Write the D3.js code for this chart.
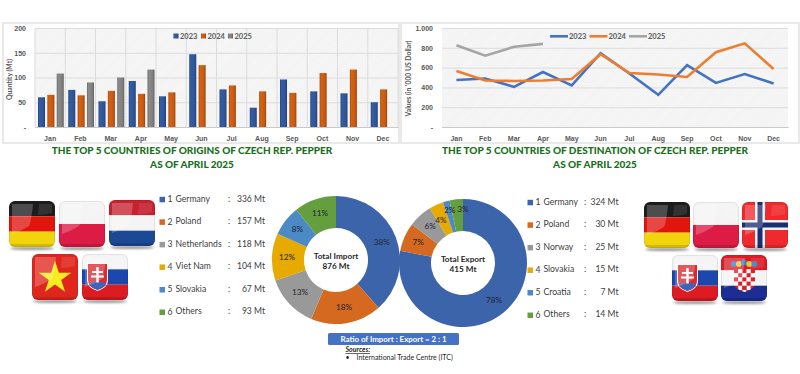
<!DOCTYPE html>
<html lang="en">
<head>
<meta charset="UTF-8">
<title>Czech Rep. Pepper Trade</title>
<script src="https://d3js.org/d3.v7.min.js"></script>
<style>
    html, body { margin: 0; padding: 0; background: #fff; overflow: hidden; }
    svg { display: block; font-family: Lato, "Open Sans", sans-serif; }
    .tick text, .month { font-size: 7px; font-weight: 700; fill: #595959; }
    .axis-title { font-size: 6.8px; font-weight: 700; fill: #595959; text-anchor: middle; }
    .legend-year { font-size: 7.5px; font-weight: 700; fill: #595959; }
    .title { font-size: 10px; font-weight: 900; fill: #17701a; text-anchor: middle; }
    .list { font-size: 8.6px; fill: #404040; dominant-baseline: middle; }
    .pct { font-size: 8.2px; fill: #1f2430; text-anchor: middle; dominant-baseline: middle; }
    .total { font-size: 8.2px; font-weight: 700; fill: #262626; text-anchor: middle; }
</style>
</head>
<body>
<div id="chart"></div>
<script>
const months = ["Jan", "Feb", "Mar", "Apr", "May", "Jun", "Jul", "Aug", "Sep", "Oct", "Nov", "Dec"];
const years = ["2023", "2024", "2025"];

// import quantity per month (Mt)
const import2023 = [60, 75, 52, 93, 62, 147, 76, 39, 96, 72, 68, 50];
const import2024 = [65, 64, 73, 67, 70, 125, 84, 72, 69, 109, 116, 76];
const import2025 = [108, 90, 100, 116];

// export value per month ('000 US Dollar)
const export2023 = [475, 490, 405, 555, 420, 745, 540, 325, 625, 445, 535, 440];
const export2024 = [565, 470, 465, 470, 485, 735, 545, 530, 505, 755, 845, 585];
const export2025 = [825, 720, 810, 840];

const importNames = ["Germany", "Poland", "Netherlands", "Viet Nam", "Slovakia", "Others"];
const importValues = [336, 157, 118, 104, 67, 93];
const importPct = [38, 18, 13, 12, 8, 11];

const exportNames = ["Germany", "Poland", "Norway", "Slovakia", "Croatia", "Others"];
const exportValues = [324, 30, 25, 15, 7, 14];
const exportPct = [78, 7, 6, 4, 2, 3];

const barColors = ["#2f5597", "#c55a11", "#7f7f7f"];
const lineColors = ["#4472c4", "#ed7d31", "#a5a5a5"];
const sliceColors = ["#3c64ab", "#d4691f", "#999999", "#e6aa00", "#4c8ac6", "#659e3e"];

const svg = d3.select("#chart").append("svg").attr("width", 800).attr("height", 374);
const defs = svg.append("defs");

const hatch = defs.append("pattern").attr("id", "hatch")
    .attr("width", 2).attr("height", 2)
    .attr("patternUnits", "userSpaceOnUse")
    .attr("patternTransform", "rotate(45)");
hatch.append("rect").attr("width", 2).attr("height", 2).attr("fill", "#fafafa");
hatch.append("rect").attr("width", 1).attr("height", 2).attr("fill", "#efefef");

barColors.forEach((c, i) => {
    const g = defs.append("linearGradient").attr("id", "bar" + i);
    g.append("stop").attr("offset", 0).attr("stop-color", d3.color(c).darker(0.5));
    g.append("stop").attr("offset", 0.22).attr("stop-color", d3.color(c).brighter(0.25));
    g.append("stop").attr("offset", 0.75).attr("stop-color", c);
    g.append("stop").attr("offset", 1).attr("stop-color", d3.color(c).darker(0.8));
});

defs.append("filter").attr("id", "soft").attr("x", "-20%").attr("y", "-200%").attr("width", "140%").attr("height", "500%")
    .append("feGaussianBlur").attr("stdDeviation", 1.2);
defs.append("filter").attr("id", "flagSoft")
    .append("feGaussianBlur").attr("stdDeviation", 0.4);

function frame(x, y, w, h) {
    svg.append("rect").attr("x", x).attr("y", y).attr("width", w).attr("height", h)
        .attr("fill", "#fff").attr("stroke", "#e2e2e2").attr("stroke-width", 1.5);
}

function twoLineTitle(cx, first) {
    svg.append("text").attr("class", "title").attr("x", cx).attr("y", 153.5).text(first);
    svg.append("text").attr("class", "title").attr("x", cx).attr("y", 167.5).text("AS OF APRIL 2025");
}

function styleAxis(g) {
    g.select(".domain").remove();
    g.selectAll(".tick line").attr("stroke", "#dcdcdc").attr("stroke-width", 1);
}

// ---- bar chart, import quantity
frame(3, 23, 396, 120);
const barBox = { left: 35, right: 398, top: 28, bottom: 127 };

svg.append("rect").attr("x", barBox.left).attr("y", barBox.top)
    .attr("width", barBox.right - barBox.left).attr("height", barBox.bottom - barBox.top)
    .attr("fill", "url(#hatch)");

const xBar = d3.scaleBand().domain(months).range([barBox.left, barBox.right]);
const xYear = d3.scaleBand().domain(years).range([3, xBar.bandwidth() - 1.5]).paddingInner(0.25);
const yBar = d3.scaleLinear().domain([0, 200]).range([barBox.bottom, barBox.top]);

svg.append("g").attr("transform", `translate(${barBox.left},0)`)
    .call(d3.axisLeft(yBar).tickValues([0, 50, 100, 150, 200])
        .tickSize(-(barBox.right - barBox.left)).tickPadding(9)
        .tickFormat(d => d === 0 ? "-" : d))
    .call(styleAxis);

svg.append("g").selectAll("line").data(months).join("line")
    .attr("x1", d => xBar(d) + xBar.bandwidth()).attr("x2", d => xBar(d) + xBar.bandwidth())
    .attr("y1", barBox.top).attr("y2", barBox.bottom)
    .attr("stroke", "#dcdcdc");
svg.append("line").attr("x1", barBox.left).attr("x2", barBox.left)
    .attr("y1", barBox.top).attr("y2", barBox.bottom).attr("stroke", "#dcdcdc");

[import2023, import2024, import2025].forEach((series, s) => {
    svg.append("g").selectAll("rect").data(series).join("rect")
        .attr("x", (d, i) => xBar(months[i]) + xYear(years[s]))
        .attr("y", d => yBar(d))
        .attr("width", xYear.bandwidth())
        .attr("height", d => yBar(0) - yBar(d))
        .attr("fill", `url(#bar${s})`);
});

svg.append("g").attr("transform", `translate(0,${barBox.bottom})`)
    .call(d3.axisBottom(xBar).tickSize(0).tickPadding(9))
    .call(g => g.select(".domain").attr("stroke", "#c9c9c9"));

svg.append("text").attr("class", "axis-title")
    .attr("transform", `translate(11.5,${(barBox.top + barBox.bottom) / 2 + 2}) rotate(-90)`)
    .text("Quantity (Mt)");

const barLegendX = d3.scaleOrdinal().domain(years).range([173.5, 201, 228]);
years.forEach((yr, i) => {
    svg.append("rect").attr("x", barLegendX(yr)).attr("y", 33.5).attr("width", 5).attr("height", 5)
        .attr("fill", `url(#bar${i})`);
    svg.append("text").attr("class", "legend-year").attr("x", barLegendX(yr) + 6.5).attr("y", 38.5).text(yr);
});

twoLineTitle(192, "THE TOP 5 COUNTRIES OF ORIGINS OF CZECH REP. PEPPER");

// ---- line chart, export value
frame(401, 23, 398, 120);
const lineBox = { left: 442, right: 788, top: 28, bottom: 127 };

svg.append("rect").attr("x", lineBox.left).attr("y", lineBox.top)
    .attr("width", lineBox.right - lineBox.left).attr("height", lineBox.bottom - lineBox.top)
    .attr("fill", "url(#hatch)");

const xLine = d3.scaleBand().domain(months).range([lineBox.left, lineBox.right]);
const yLine = d3.scaleLinear().domain([0, 1000]).range([lineBox.bottom, lineBox.top]);

svg.append("g").attr("transform", `translate(${lineBox.left},0)`)
    .call(d3.axisLeft(yLine).tickValues([0, 200, 400, 600, 800, 1000])
        .tickSize(-(lineBox.right - lineBox.left)).tickPadding(9)
        .tickFormat(d => d === 0 ? "-" : d === 1000 ? "1.000" : d))
    .call(styleAxis);

svg.append("g").attr("transform", `translate(0,${lineBox.bottom})`)
    .call(d3.axisBottom(xLine).tickSize(0).tickPadding(9))
    .call(g => g.select(".domain").attr("stroke", "#c9c9c9"));

const line = d3.line()
    .x((d, i) => xLine(months[i]) + xLine.bandwidth() / 2)
    .y(d => yLine(d));

[export2023, export2024, export2025].forEach((series, s) => {
    svg.append("path").datum(series).attr("d", line)
        .attr("fill", "none").attr("stroke", lineColors[s]).attr("stroke-width", 2.6);
});

svg.append("text").attr("class", "axis-title")
    .attr("transform", `translate(411,${(lineBox.top + lineBox.bottom) / 2 + 1}) rotate(-90)`)
    .text("Values (in '000 US Dollar)");

const lineLegendX = d3.scaleOrdinal().domain(years).range([550, 589.5, 629]);
years.forEach((yr, i) => {
    svg.append("line").attr("x1", lineLegendX(yr)).attr("x2", lineLegendX(yr) + 18)
        .attr("y1", 36.3).attr("y2", 36.3).attr("stroke", lineColors[i]).attr("stroke-width", 2.6);
    svg.append("text").attr("class", "legend-year").attr("x", lineLegendX(yr) + 19).attr("y", 39).text(yr);
});

twoLineTitle(595, "THE TOP 5 COUNTRIES OF DESTINATION OF CZECH REP. PEPPER");

// ---- donuts
const pie = d3.pie().sort(null);
const arc = d3.arc().innerRadius(32).outerRadius(64);
const labelArc = d3.arc().innerRadius(49).outerRadius(49);

function donut(cx, cy, values, pct, top, bottom, nudge) {
    const g = svg.append("g").attr("transform", `translate(${cx},${cy})`);
    const arcs = pie(values);
    g.selectAll("path").data(arcs).join("path")
        .attr("d", arc)
        .attr("fill", (d, i) => sliceColors[i]);
    g.selectAll(".pct").data(arcs).join("text")
        .attr("class", "pct")
        .attr("transform", (d, i) => {
            const [cxx, cyy] = labelArc.centroid(d);
            const n = nudge[i] || [0, 0];
            return `translate(${cxx + n[0]},${cyy + n[1]})`;
        })
        .text((d, i) => pct[i] + "%");
    g.append("text").attr("class", "total").attr("y", -1).text(top);
    g.append("text").attr("class", "total").attr("y", 9).text(bottom);
}

donut(336, 260, importValues, importPct, "Total Import", "876 Mt", {});
// the two thin slices carry labels pushed outward so they sit side by side
donut(463, 263, exportValues, exportPct, "Total Export", "415 Mt", { 3: [-1.5, 2.5], 4: [-0.5, -4.5], 5: [5, -4.5] });

// ---- country lists
function countryList(names, values, o) {
    const y = d3.scalePoint().domain(d3.range(6)).range([o.top, o.top + 5 * 22.55]);
    const g = svg.append("g");
    names.forEach((name, i) => {
        g.append("rect").attr("x", o.swatch).attr("y", y(i) - 2.7).attr("width", 5.5).attr("height", 5.5)
            .attr("fill", sliceColors[i]);
        g.append("text").attr("class", "list").attr("x", o.num).attr("y", y(i) + 0.5).text(i + 1);
        g.append("text").attr("class", "list").attr("x", o.name).attr("y", y(i)).text(name);
        g.append("text").attr("class", "list").attr("x", o.colon).attr("y", y(i)).text(":");
        g.append("text").attr("class", "list").attr("x", o.value).attr("y", y(i))
            .attr("text-anchor", "end").text(values[i] + " Mt");
    });
}

countryList(importNames, importValues, { top: 199.5, swatch: 159.5, num: 167.5, name: 175.5, colon: 228, value: 265 });
countryList(exportNames, exportValues, { top: 202.5, swatch: 527.5, num: 535.5, name: 543.5, colon: 584, value: 618.5 });

// ---- ratio box and sources
svg.append("rect").attr("x", 328).attr("y", 333).attr("width", 131).attr("height", 12).attr("rx", 1.5)
    .attr("fill", "#4472c4");
svg.append("text").attr("x", 393.5).attr("y", 342).attr("text-anchor", "middle")
    .attr("font-size", 7.9).attr("font-weight", 700).attr("fill", "#fff")
    .text("Ratio of Import : Export = 2 : 1");
svg.append("text").attr("x", 345.5).attr("y", 352)
    .attr("font-size", 7).attr("font-style", "italic").attr("font-weight", 700)
    .attr("text-decoration", "underline").attr("fill", "#262626").text("Sources:");
svg.append("text").attr("x", 345.5).attr("y", 360).attr("font-size", 7).attr("fill", "#262626").text("•");
svg.append("text").attr("x", 356.5).attr("y", 360).attr("font-size", 7).attr("fill", "#262626")
    .text("International Trade Centre (ITC)");

// ---- glossy flag icons
const flagSize = 46;
let flagCount = 0;

function stripes(g, colors) {
    const y = d3.scaleBand().domain(d3.range(colors.length)).range([0, flagSize]);
    g.selectAll(".stripe").data(colors).join("rect").attr("class", "stripe")
        .attr("y", (d, i) => y(i)).attr("width", flagSize).attr("height", y.bandwidth())
        .attr("fill", d => d);
}

function shield(g, x, y, w, h, fill) {
    return g.append("path")
        .attr("d", `M${x},${y}H${x + w}V${y + h * 0.62}Q${x + w},${y + h * 0.88} ${x + w / 2},${y + h}Q${x},${y + h * 0.88} ${x},${y + h * 0.62}Z`)
        .attr("fill", fill);
}

function drawGermany(g) { stripes(g, ["#1c1c1c", "#e0140f", "#f2d40c"]); }
function drawPoland(g) { stripes(g, ["#f4f4f4", "#dd1a45"]); }
function drawNetherlands(g) { stripes(g, ["#c5202f", "#f4f4f4", "#1c4a96"]); }

function drawVietnam(g) {
    stripes(g, ["#e0281f"]);
    g.append("path").attr("transform", "translate(23,24)")
        .attr("d", d3.symbol(d3.symbolStar, 330)())
        .attr("fill", "#f7ec20");
}

function drawSlovakia(g) {
    stripes(g, ["#f4f4f4", "#1f47ad", "#dc1c24"]);
    shield(g, 5, 9, 21, 28, "#fff");
    shield(g, 6, 10, 19, 26, "#dc2a2e");
    g.append("path").attr("d", "M6.8,31Q10,26 13,28.5Q15.5,24.5 18,28.5Q21,26 24.2,31Q20,35 15.5,36Q11,35 6.8,31Z").attr("fill", "#3f63b8");
    g.append("path").attr("d", "M14.3,13H16.7V17H21V19H16.7V21.5H22V23.5H16.7V28.5H14.3V23.5H9V21.5H14.3V19H10V17H14.3Z").attr("fill", "#fff");
}

function drawNorway(g) {
    stripes(g, ["#ef2b2d"]);
    g.append("rect").attr("x", 13).attr("width", 10).attr("height", flagSize).attr("fill", "#f4f4f4");
    g.append("rect").attr("y", 18).attr("width", flagSize).attr("height", 10).attr("fill", "#f4f4f4");
    g.append("rect").attr("x", 15.5).attr("width", 5).attr("height", flagSize).attr("fill", "#1d2f72");
    g.append("rect").attr("y", 20.5).attr("width", flagSize).attr("height", 5).attr("fill", "#1d2f72");
}

function drawCroatia(g) {
    stripes(g, ["#dc1c24", "#f4f4f4", "#1c2f94"]);
    const squares = d3.cross(d3.range(5), d3.range(6));
    const cell = d3.scaleBand().domain(d3.range(5)).range([13, 34]);
    const clipId = "shield-clip";
    shield(defs.append("clipPath").attr("id", clipId), 13, 14, 21, 23, "#000");
    const sh = g.append("g").attr("clip-path", `url(#${clipId})`);
    sh.selectAll("rect").data(squares).join("rect")
        .attr("x", d => cell(d[0])).attr("y", d => 14 + d[1] * cell.bandwidth())
        .attr("width", cell.bandwidth()).attr("height", cell.bandwidth())
        .attr("fill", d => (d[0] + d[1]) % 2 ? "#f7f7f7" : "#d9202a");
    const crown = d3.scaleBand().domain(d3.range(5)).range([10, 36]);
    g.selectAll(".crown").data(d3.range(5)).join("circle").attr("class", "crown")
        .attr("cx", d => crown(d) + crown.bandwidth() / 2)
        .attr("cy", d => 9 - (d === 2 ? 1.5 : 0))
        .attr("r", 2.9)
        .attr("fill", d => d % 2 ? "#e7c63b" : "#3d7ec9");
}

function flag(x, y, draw) {
    const id = "flag" + (flagCount++);
    defs.append("clipPath").attr("id", id).append("rect")
        .attr("width", flagSize).attr("height", flagSize).attr("rx", 6);
    svg.append("ellipse").attr("cx", x + flagSize / 2).attr("cy", y + flagSize + 1.5)
        .attr("rx", flagSize / 2 - 1).attr("ry", 1.6).attr("fill", "#555").attr("opacity", 0.6)
        .attr("filter", "url(#soft)");
    const g = svg.append("g").attr("transform", `translate(${x},${y})`).attr("filter", "url(#flagSoft)");
    const inner = g.append("g").attr("clip-path", `url(#${id})`);
    draw(inner);
    // gloss: light panel on the left and a darker lower rim
    inner.append("path").attr("d", "M3,3H24Q22,22 20,25Q12,30 3,33Z").attr("fill", "#fff").attr("opacity", 0.22);
    inner.append("path").attr("d", "M30,3H43V12Q36,14 29,14Z").attr("fill", "#fff").attr("opacity", 0.1);
    inner.append("rect").attr("y", flagSize - 3).attr("width", flagSize).attr("height", 3).attr("fill", "#000").attr("opacity", 0.13);
    g.append("rect").attr("x", 0.4).attr("y", 0.4).attr("width", flagSize - 0.8).attr("height", flagSize - 0.8).attr("rx", 6)
        .attr("fill", "none").attr("stroke", "#000").attr("stroke-opacity", 0.1).attr("stroke-width", 0.8);
}

flag(9, 201, drawGermany);
flag(59, 201, drawPoland);
flag(109, 200, drawNetherlands);
flag(32, 254, drawVietnam);
flag(82, 254, drawSlovakia);

flag(644, 202, drawGermany);
flag(693, 202, drawPoland);
flag(742, 202, drawNorway);
flag(672, 255, drawSlovakia);
flag(721, 255, drawCroatia);
</script>
</body>
</html>
